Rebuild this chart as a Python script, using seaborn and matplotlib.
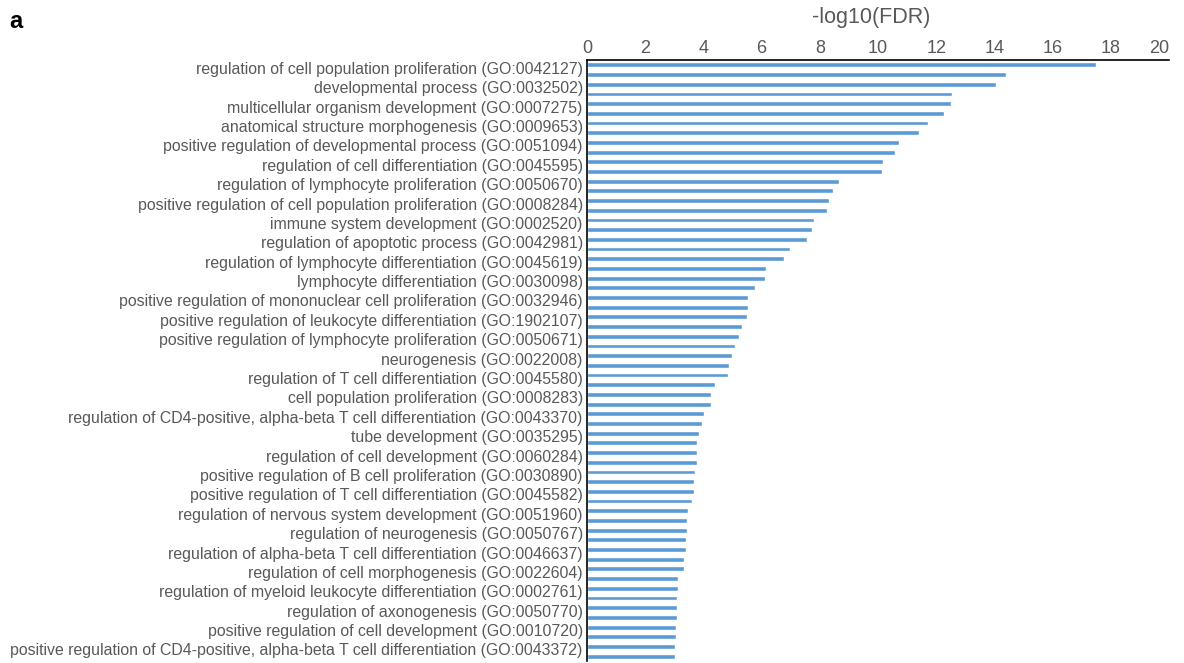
import numpy as np
import pandas as pd
import matplotlib
matplotlib.use('Agg')
import matplotlib.pyplot as plt
import matplotlib.transforms as mtransforms
import seaborn as sns

# GO terms (only every second bar carries a label in the original)
terms = [
    'regulation of cell population proliferation (GO:0042127)',
    'developmental process (GO:0032502)',
    'multicellular organism development (GO:0007275)',
    'anatomical structure morphogenesis (GO:0009653)',
    'positive regulation of developmental process (GO:0051094)',
    'regulation of cell differentiation (GO:0045595)',
    'regulation of lymphocyte proliferation (GO:0050670)',
    'positive regulation of cell population proliferation (GO:0008284)',
    'immune system development (GO:0002520)',
    'regulation of apoptotic process (GO:0042981)',
    'regulation of lymphocyte differentiation (GO:0045619)',
    'lymphocyte differentiation (GO:0030098)',
    'positive regulation of mononuclear cell proliferation (GO:0032946)',
    'positive regulation of leukocyte differentiation (GO:1902107)',
    'positive regulation of lymphocyte proliferation (GO:0050671)',
    'neurogenesis (GO:0022008)',
    'regulation of T cell differentiation (GO:0045580)',
    'cell population proliferation (GO:0008283)',
    'regulation of CD4-positive, alpha-beta T cell differentiation (GO:0043370)',
    'tube development (GO:0035295)',
    'regulation of cell development (GO:0060284)',
    'positive regulation of B cell proliferation (GO:0030890)',
    'positive regulation of T cell differentiation (GO:0045582)',
    'regulation of nervous system development (GO:0051960)',
    'regulation of neurogenesis (GO:0050767)',
    'regulation of alpha-beta T cell differentiation (GO:0046637)',
    'regulation of cell morphogenesis (GO:0022604)',
    'regulation of myeloid leukocyte differentiation (GO:0002761)',
    'regulation of axonogenesis (GO:0050770)',
    'positive regulation of cell development (GO:0010720)',
    'positive regulation of CD4-positive, alpha-beta T cell differentiation (GO:0043372)',
]

# -log10(FDR) for all 62 bars, top to bottom
fdr = [17.50, 14.39, 14.07, 12.53, 12.50, 12.28, 11.73, 11.41, 10.71, 10.60,
       10.18, 10.14, 8.66, 8.46, 8.30, 8.25, 7.79, 7.72, 7.55, 6.98,
       6.77, 6.14, 6.10, 5.76, 5.53, 5.53, 5.50, 5.33, 5.21, 5.10,
       4.98, 4.87, 4.83, 4.40, 4.26, 4.26, 4.01, 3.94, 3.86, 3.79,
       3.79, 3.79, 3.71, 3.68, 3.68, 3.60, 3.48, 3.45, 3.43, 3.39,
       3.39, 3.33, 3.33, 3.14, 3.14, 3.10, 3.10, 3.10, 3.07, 3.07,
       3.04, 3.02]

xticks = [0, 2, 4, 6, 8, 10, 12, 14, 16, 18, 20]

sns.set_theme(style='white')
plt.rcParams['font.family'] = ['Liberation Sans', 'DejaVu Sans']
grey = '#595959'

df = pd.DataFrame({'rank': np.arange(len(fdr)), 'fdr': fdr})

fig = plt.figure(figsize=(11.84, 6.63), dpi=100)
ax = fig.add_axes([0.4958, 0.003, 0.4915, 0.9065])
sns.barplot(data=df, x='fdr', y='rank', orient='h', color='#5B9BD5',
            saturation=1, width=0.5, ax=ax)

ax.set_xlim(0, 20)
ax.set_ylim(len(fdr) - 0.5, -0.5)
ax.xaxis.tick_top()
ax.xaxis.set_label_position('top')
ax.set_xticks(xticks)
ax.set_xticklabels([str(t) for t in xticks], fontsize=13, color=grey)
# excel keeps the last label inside the chart area
ax.get_xticklabels()[-1].set_horizontalalignment('right')
ax.set_xlabel('-log10(FDR)', fontsize=15.5, color=grey, va='center')
ax.xaxis.set_label_coords(0.488, 1.07)
ax.set_ylabel('')
ax.set_yticks(np.arange(0, len(fdr), 2))
ax.set_yticklabels(terms, fontsize=11.45, color=grey)
ax.tick_params(axis='both', length=0, pad=3)
ax.tick_params(axis='x', pad=2)

shift = mtransforms.ScaledTranslation(0, -3 / 100, fig.dpi_scale_trans)
for lbl in ax.get_yticklabels():
    lbl.set_transform(lbl.get_transform() + shift)

for side in ['right', 'bottom']:
    ax.spines[side].set_visible(False)
for side in ['top', 'left']:
    ax.spines[side].set_color('black')
    ax.spines[side].set_linewidth(1.2)

fig.text(0.008, 0.985, 'a', fontsize=17, fontweight='bold', color='black',
         va='top', ha='left')

fig.savefig('out.png', dpi=100)
